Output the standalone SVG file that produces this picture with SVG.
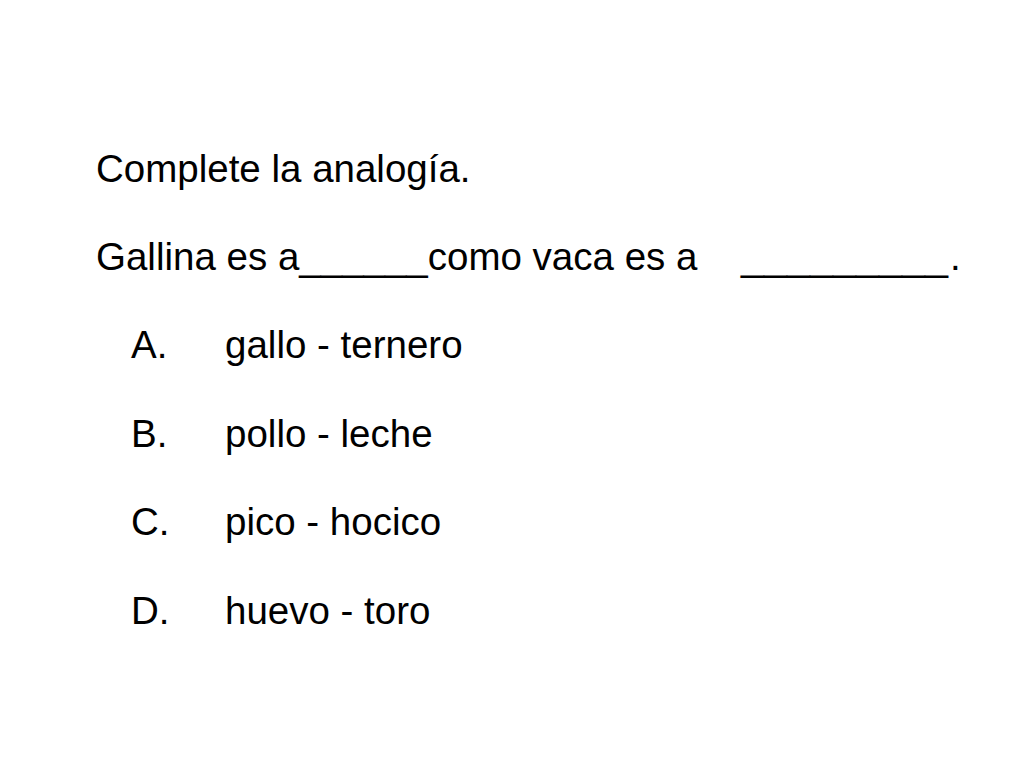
<svg xmlns="http://www.w3.org/2000/svg" width="1024" height="768" viewBox="0 0 1024 768">
<style>
text{font-family:"Liberation Sans",Arial,sans-serif;font-size:38.5px;fill:#000}
</style>
<rect width="1024" height="768" fill="#fff"/>
<g id="question">
<text x="96" y="182">Complete la analogía.</text>
<text x="96" y="270">Gallina es a______como vaca es a</text>
<text x="741" y="270" textLength="207" lengthAdjust="spacingAndGlyphs">_________</text>
<text x="950" y="270">.</text>
</g>
<g id="optA"><text x="131" y="358">A.</text><text x="225" y="358">gallo - ternero</text></g>
<g id="optB"><text x="131" y="447">B.</text><text x="225" y="447">pollo - leche</text></g>
<g id="optC"><text x="131" y="535">C.</text><text x="225" y="535">pico - hocico</text></g>
<g id="optD"><text x="131" y="624">D.</text><text x="225" y="624">huevo - toro</text></g>
</svg>
